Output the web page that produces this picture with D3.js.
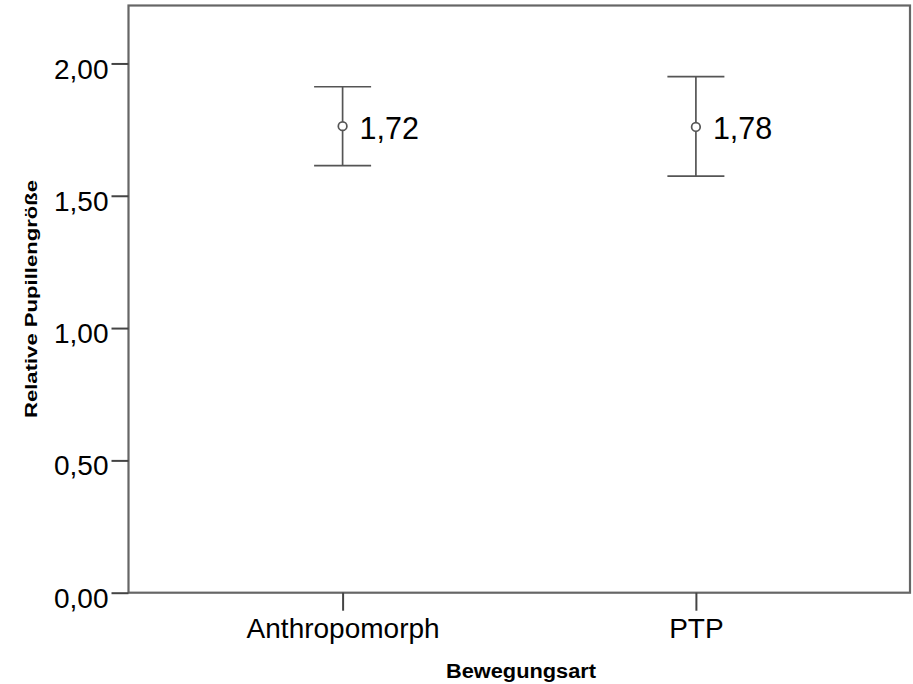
<!DOCTYPE html>
<html><head><meta charset="utf-8">
<script src="https://cdn.jsdelivr.net/npm/d3@7"></script>
<style>body{margin:0;background:#fff}svg{display:block}</style>
</head><body>
<script>
const categories = ["Anthropomorph", "PTP"];
const means = [1.763, 1.760];
const upper = [1.912, 1.950];
const lower = [1.614, 1.574];
const meanLabels = ["1,72", "1,78"];
const yTicks = [0, 0.5, 1.0, 1.5, 2.0];
const yTickLabels = ["0,00", "0,50", "1,00", "1,50", "2,00"];
const xTitle = "Bewegungsart";
const yTitle = "Relative Pupillengröße";

const W = 913, H = 684;
const L = 128.5, R = 910, T = 5.5, B = 592.7;
const svg = d3.select("body").append("svg").attr("width", W).attr("height", H);

const y = d3.scaleLinear().domain([0, 2.219]).range([B, T]);
const x = d3.scalePoint().domain(categories).range([L, R]).padding(0.606);

const col = "#555";
const font = "'Liberation Sans', Arial, sans-serif";

// frame
svg.append("rect").attr("x", L).attr("y", T).attr("width", R - L).attr("height", B - T)
  .attr("fill", "none").attr("stroke", "#666").attr("stroke-width", 2.2);

// y axis
const yAxis = d3.axisLeft(y).tickValues(yTicks).tickSize(17).tickPadding(3)
  .tickFormat((d, i) => yTickLabels[i]);
const gy = svg.append("g").attr("transform", `translate(${L},0)`).call(yAxis);
gy.select(".domain").remove();
gy.selectAll("line").attr("stroke", "#444").attr("stroke-width", 2);
gy.selectAll("text").attr("font-family", font).attr("font-size", 28).attr("fill", "#000")
  .attr("dy", "0.52em");

// x axis
const xAxis = d3.axisBottom(x).tickSize(18).tickPadding(7);
const gx = svg.append("g").attr("transform", `translate(0,${B})`).call(xAxis);
gx.select(".domain").remove();
gx.selectAll("line").attr("stroke", "#444").attr("stroke-width", 2);
gx.selectAll("text").attr("font-family", font).attr("font-size", 28).attr("fill", "#000");

// error bars
const capW = 28.5;
const g = svg.append("g");
categories.forEach((c, i) => {
  const cx = x(c);
  g.append("line").attr("x1", cx).attr("x2", cx).attr("y1", y(upper[i])).attr("y2", y(lower[i]))
    .attr("stroke", col).attr("stroke-width", 1.7);
  [upper[i], lower[i]].forEach(v => {
    g.append("line").attr("x1", cx - capW).attr("x2", cx + capW).attr("y1", y(v)).attr("y2", y(v))
      .attr("stroke", col).attr("stroke-width", 1.7);
  });
  g.append("circle").attr("cx", cx).attr("cy", y(means[i])).attr("r", 4.3)
    .attr("fill", "#fff").attr("stroke", col).attr("stroke-width", 1.7);
  g.append("text").attr("x", cx + 17).attr("y", y(means[i]) + 12.5)
    .attr("font-family", font).attr("font-size", 30.5).attr("fill", "#000").text(meanLabels[i]);
});

// axis titles
svg.append("text").attr("x", 521).attr("y", 677.7).attr("text-anchor", "middle")
  .attr("font-family", font).attr("font-weight", "bold").attr("font-size", 20).attr("fill", "#000")
  .attr("textLength", 150).attr("lengthAdjust", "spacingAndGlyphs").text(xTitle);
svg.append("text").attr("transform", "translate(37,299) rotate(-90)").attr("text-anchor", "middle")
  .attr("font-family", font).attr("font-weight", "bold").attr("font-size", 17).attr("fill", "#000")
  .attr("textLength", 238).attr("lengthAdjust", "spacingAndGlyphs").text(yTitle);
</script>
</body></html>
